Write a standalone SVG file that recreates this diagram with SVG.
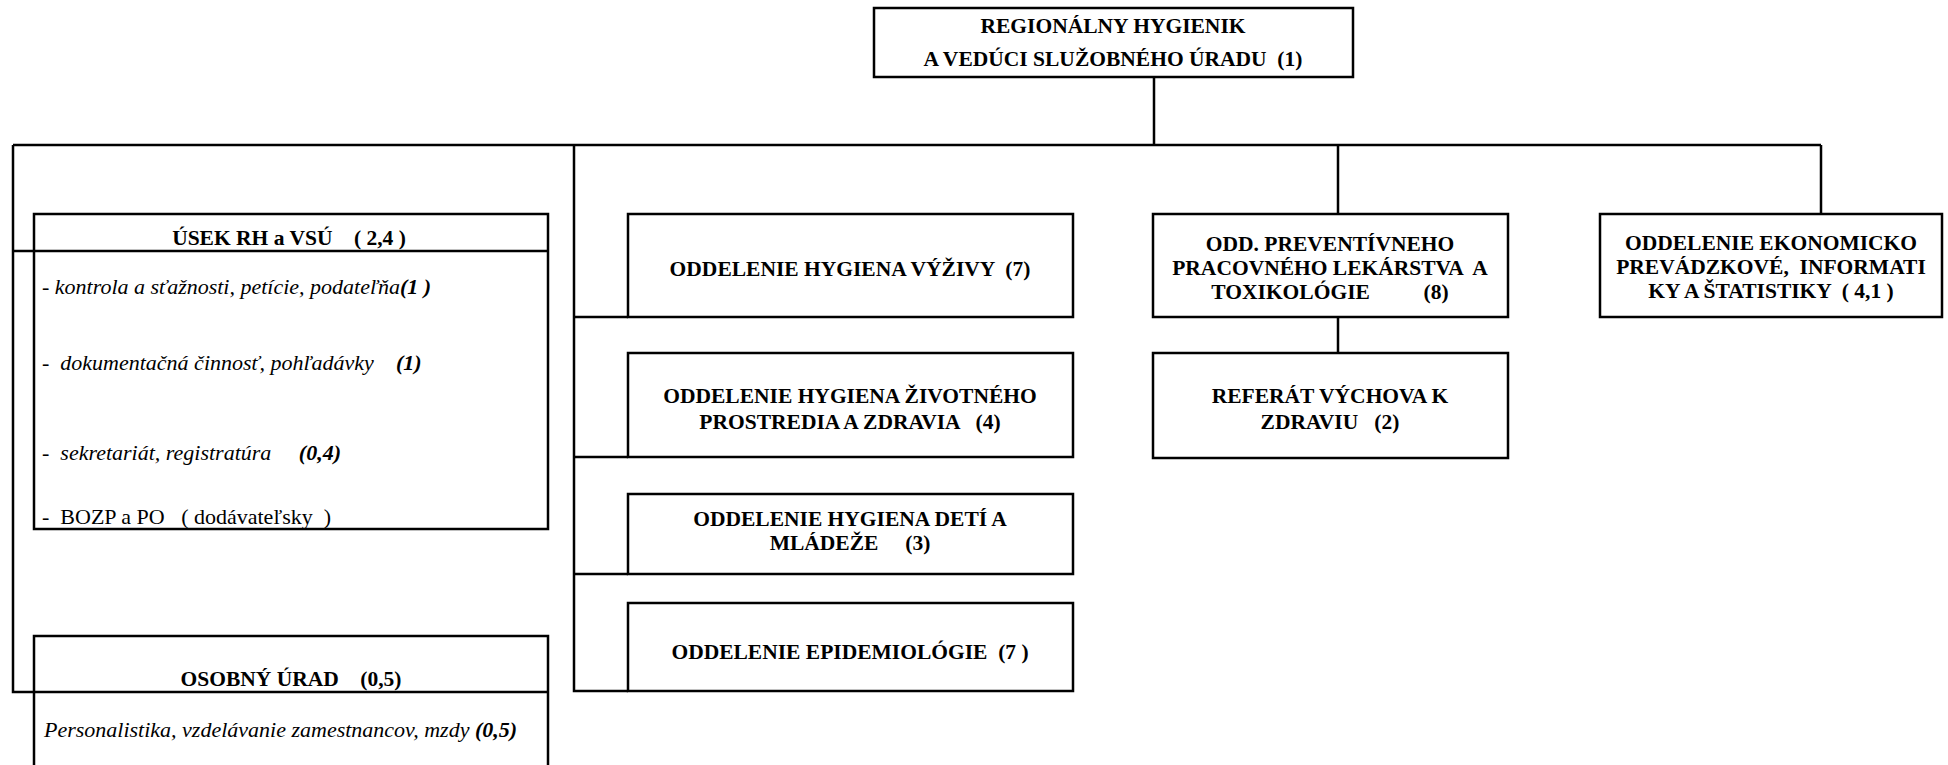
<svg xmlns="http://www.w3.org/2000/svg" width="1948" height="765" viewBox="0 0 1948 765">
<style>
.box{fill:#fff;stroke:#000;stroke-width:2.5}
.ln{fill:none;stroke:#000;stroke-width:2.5}
text{white-space:pre;fill:#000}
.t{font-weight:bold;font-size:21.5px;text-anchor:middle}
.it{font-style:italic;font-size:22px}
.rg{font-size:22px}
.bi{font-weight:bold;font-style:italic}
.up{font-style:normal}
</style>
<rect width="1948" height="765" fill="#fff"/>
<g id="connectors">
<path class="ln" d="M1154 77V145M13 145H1821M13 145V692H34M13 251H34M574 145V691H628M574 317H628M574 457H628M574 574H628M1338 145V214M1338 317V353M1821 145V214"/>
</g>
<g font-family="Liberation Serif, Times New Roman, Tinos, Noto Serif, DejaVu Serif, FreeSerif, serif">
<g id="root">
<rect class="box" x="874" y="8" width="479" height="69"/>
<text class="t" x="1113" y="33">REGIONÁLNY HYGIENIK</text>
<text class="t" x="1113" y="66">A VEDÚCI SLUŽOBNÉHO ÚRADU  (1)</text>
</g>
<g id="usek">
<rect class="box" x="34" y="214" width="514" height="315"/>
<line class="ln" x1="34" y1="251" x2="548" y2="251"/>
<text class="t" x="289" y="245">ÚSEK RH a VSÚ    ( 2,4 )</text>
<text class="it" x="42" y="294">- kontrola a sťažnosti, petície, podateľňa<tspan class="bi">(1 )</tspan></text>
<text class="it" x="42" y="370"><tspan class="up">-  </tspan>dokumentačná činnosť, pohľadávky    <tspan class="bi">(1)</tspan></text>
<text class="it" x="42" y="460"><tspan class="up">-  </tspan>sekretariát, registratúra     <tspan class="bi">(0,4)</tspan></text>
<text class="rg" x="42" y="524">-  BOZP a PO   ( dodávateľsky  )</text>
</g>
<g id="osobny">
<rect class="box" x="34" y="636" width="514" height="140"/>
<line class="ln" x1="34" y1="692" x2="548" y2="692"/>
<text class="t" x="291" y="686">OSOBNÝ ÚRAD    (0,5)</text>
<text class="it" x="44" y="737">Personalistika, vzdelávanie zamestnancov, mzdy <tspan class="bi">(0,5)</tspan></text>
</g>
<g id="vyziva">
<rect class="box" x="628" y="214" width="445" height="103"/>
<text class="t" x="850" y="276">ODDELENIE HYGIENA VÝŽIVY  (7)</text>
</g>
<g id="zivotne">
<rect class="box" x="628" y="353" width="445" height="104"/>
<text class="t" x="850" y="403">ODDELENIE HYGIENA ŽIVOTNÉHO</text>
<text class="t" x="850" y="429">PROSTREDIA A ZDRAVIA   (4)</text>
</g>
<g id="deti">
<rect class="box" x="628" y="494" width="445" height="80"/>
<text class="t" x="850" y="526">ODDELENIE HYGIENA DETÍ A</text>
<text class="t" x="850" y="550">MLÁDEŽE     (3)</text>
</g>
<g id="epid">
<rect class="box" x="628" y="603" width="445" height="88"/>
<text class="t" x="850" y="659">ODDELENIE EPIDEMIOLÓGIE  (7 )</text>
</g>
<g id="prev">
<rect class="box" x="1153" y="214" width="355" height="103"/>
<text class="t" x="1330" y="251">ODD. PREVENTÍVNEHO</text>
<text class="t" x="1330" y="275">PRACOVNÉHO LEKÁRSTVA  A</text>
<text class="t" x="1330" y="299">TOXIKOLÓGIE          (8)</text>
</g>
<g id="referat">
<rect class="box" x="1153" y="353" width="355" height="105"/>
<text class="t" x="1330" y="403">REFERÁT VÝCHOVA K</text>
<text class="t" x="1330" y="429">ZDRAVIU   (2)</text>
</g>
<g id="ekon">
<rect class="box" x="1600" y="214" width="342" height="103"/>
<text class="t" x="1771" y="250">ODDELENIE EKONOMICKO</text>
<text class="t" x="1771" y="274">PREVÁDZKOVÉ,  INFORMATI</text>
<text class="t" x="1771" y="298">KY A ŠTATISTIKY  ( 4,1 )</text>
</g>
</g>
</svg>
